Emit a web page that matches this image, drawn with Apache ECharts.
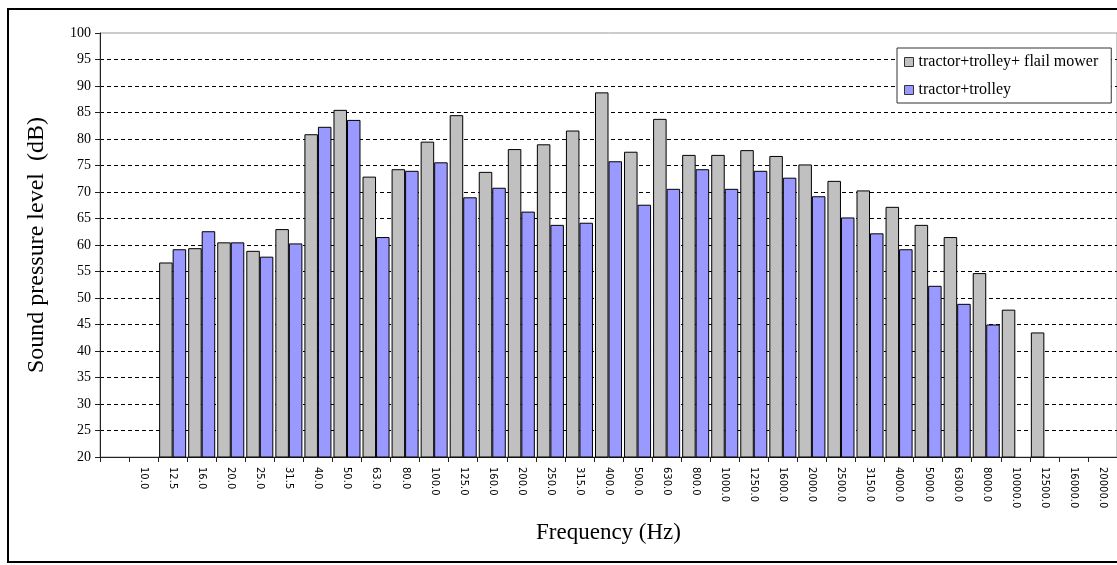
<!DOCTYPE html>
<html>
<head>
<meta charset="utf-8">
<script src="https://cdn.jsdelivr.net/npm/echarts@6/dist/echarts.min.js"></script>
<style>
  html, body { margin: 0; padding: 0; background: #fff; }
  #main { width: 1117px; height: 565px; }
</style>
</head>
<body>
<div id="main"></div>
<script>
// one-third octave bands (first slot is blank in the original sheet)
var freqLabels = ['', '10.0', '12.5', '16.0', '20.0', '25.0', '31.5', '40.0', '50.0', '63.0', '80.0',
  '100.0', '125.0', '160.0', '200.0', '250.0', '315.0', '400.0', '500.0', '630.0', '800.0',
  '1000.0', '1250.0', '1600.0', '2000.0', '2500.0', '3150.0', '4000.0', '5000.0', '6300.0', '8000.0',
  '10000.0', '12500.0', '16000.0', '20000.0'];

var withMower = [null, null, 56.7, 59.4, 60.5, 58.9, 63.0, 80.9, 85.5, 72.9, 74.3,
  79.5, 84.5, 73.8, 78.1, 79.0, 81.6, 88.8, 77.6, 83.8, 77.0,
  77.0, 77.9, 76.8, 75.2, 72.1, 70.3, 67.2, 63.8, 61.5, 54.7,
  47.8, 43.5, null, null];

var trolleyOnly = [null, null, 59.2, 62.6, 60.5, 57.8, 60.3, 82.3, 83.6, 61.5, 74.0,
  75.6, 69.0, 70.8, 66.3, 63.8, 64.2, 75.8, 67.6, 70.6, 74.3,
  70.6, 74.0, 72.7, 69.2, 65.2, 62.2, 59.2, 52.3, 48.9, 45.0,
  null, null, null, null];

var seriesNames = ['tractor+trolley+ flail mower', 'tractor+trolley'];

var serif = 'Liberation Serif';

var myChart = echarts.init(document.getElementById('main'), null, { renderer: 'canvas' });

var option = {
  animation: false,
  backgroundColor: '#fff',
  graphic: [{
    type: 'rect',
    shape: { x: 8, y: 9, width: 1130, height: 553 },
    style: { fill: 'none', stroke: '#000', lineWidth: 2 },
    z: -10
  }],
  grid: {
    left: 100,
    top: 33,
    width: 1022,
    height: 424,
    show: true,
    borderColor: '#999',
    borderWidth: 1,
    backgroundColor: 'transparent'
  },
  legend: {
    orient: 'vertical',
    left: 897,
    top: 48,
    backgroundColor: '#fff',
    borderColor: '#333',
    borderWidth: 1,
    padding: [6, 13, 5, 7],
    itemGap: 12,
    itemWidth: 9,
    itemHeight: 9,
    icon: 'rect',
    itemStyle: { borderColor: '#333', borderWidth: 1 },
    textStyle: { fontFamily: serif, fontSize: 16, color: '#000' },
    data: seriesNames
  },
  xAxis: {
    type: 'category',
    data: freqLabels,
    name: 'Frequency (Hz)',
    nameLocation: 'middle',
    nameGap: 64,
    nameTextStyle: { fontFamily: serif, fontSize: 23, color: '#000' },
    axisLine: { lineStyle: { color: '#222', width: 1 } },
    axisTick: { show: true, length: 5, lineStyle: { color: '#222' } },
    axisLabel: {
      interval: 0,
      rotate: -90,
      margin: 10,
      fontFamily: 'DejaVu Sans',
      fontSize: 10,
      color: '#000'
    }
  },
  yAxis: {
    type: 'value',
    min: 20,
    max: 100,
    interval: 5,
    name: 'Sound pressure level  (dB)',
    nameLocation: 'middle',
    nameGap: 51,
    nameTextStyle: { fontFamily: serif, fontSize: 24, color: '#000' },
    axisLine: { show: true, lineStyle: { color: '#222', width: 1 } },
    axisTick: { show: true, length: 5, lineStyle: { color: '#222' } },
    axisLabel: { margin: 9, fontFamily: serif, fontSize: 14, color: '#000' },
    splitLine: {
      show: true,
      showMinLine: false,
      showMaxLine: false,
      lineStyle: { color: '#000', type: [4, 3], width: 1 }
    }
  },
  series: [
    {
      name: seriesNames[0],
      type: 'bar',
      data: withMower,
      barGap: '0%',
      barCategoryGap: '7%',
      itemStyle: { color: '#C0C0C0', borderColor: '#000', borderWidth: 1 }
    },
    {
      name: seriesNames[1],
      type: 'bar',
      data: trolleyOnly,
      itemStyle: { color: '#9999FF', borderColor: '#000', borderWidth: 1 }
    }
  ]
};

myChart.setOption(option);
window.addEventListener('resize', myChart.resize);
</script>
</body>
</html>
